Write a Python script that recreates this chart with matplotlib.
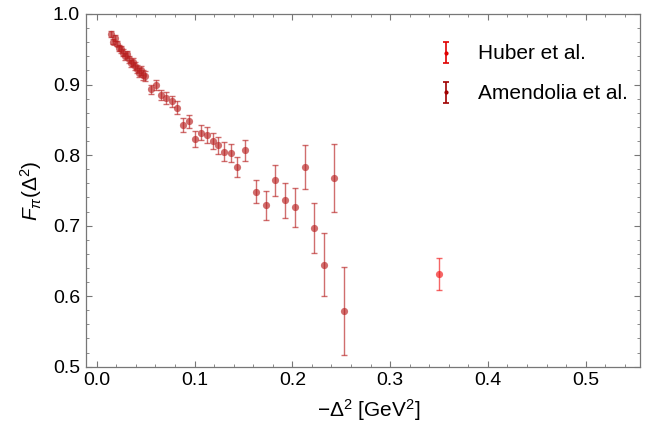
import matplotlib
matplotlib.use("Agg")
import matplotlib.pyplot as plt
from matplotlib.ticker import MultipleLocator
import numpy as np

plt.rcParams["font.family"] = ["Liberation Sans", "DejaVu Sans"]
plt.rcParams["mathtext.fontset"] = "custom"
plt.rcParams["mathtext.rm"] = "Liberation Sans"
plt.rcParams["mathtext.it"] = "Liberation Sans:italic"
plt.rcParams["mathtext.bf"] = "Liberation Sans:bold"

# Amendolia et al. (pion form factor, spacelike)
amend_q2 = [0.015, 0.017, 0.019, 0.021, 0.023, 0.025, 0.027, 0.029, 0.031,
            0.033, 0.035, 0.037, 0.039, 0.041, 0.043, 0.045, 0.047, 0.049,
            0.0555, 0.0606, 0.0657, 0.0709, 0.0767, 0.0824,
            0.0886, 0.0947, 0.1005, 0.1067, 0.1125, 0.1186, 0.1244, 0.1305,
            0.137, 0.1431,
            0.152, 0.1626, 0.1728, 0.182, 0.1925, 0.203, 0.2127, 0.2222,
            0.2327, 0.243, 0.2529]
amend_f = [0.972, 0.961, 0.966, 0.958, 0.952, 0.950, 0.945, 0.940, 0.943,
           0.936, 0.930, 0.932, 0.926, 0.922, 0.917, 0.920, 0.914, 0.912,
           0.893, 0.899, 0.885, 0.881, 0.876, 0.867,
           0.843, 0.848, 0.823, 0.832, 0.8285, 0.820, 0.8138, 0.805,
           0.8025, 0.7827,
           0.807, 0.748, 0.729, 0.764, 0.736, 0.726, 0.783, 0.696,
           0.6446, 0.768, 0.579]
amend_err = [0.004, 0.004, 0.004, 0.004, 0.004, 0.005, 0.005, 0.005, 0.005,
             0.005, 0.005, 0.006, 0.006, 0.006, 0.006, 0.006, 0.007, 0.007,
             0.006, 0.007, 0.007, 0.008, 0.008, 0.009,
             0.0102, 0.0095, 0.011, 0.011, 0.011, 0.012, 0.012, 0.013,
             0.013, 0.014,
             0.0147, 0.016, 0.0205, 0.0225, 0.025, 0.0276, 0.0307, 0.0354,
             0.045, 0.048, 0.063]

# Huber et al.
huber_q2 = [0.3497]
huber_f = [0.632]
huber_err = [0.0227]

xticks = [0.0, 0.1, 0.2, 0.3, 0.4, 0.5]
yticks = [0.5, 0.6, 0.7, 0.8, 0.9, 1.0]

W, H = 662, 430
fig = plt.figure(figsize=(W / 100, H / 100), dpi=100)
left, right, top, bottom = 85.5, 640, 14, 366.7
ax = fig.add_axes([left / W, 1 - bottom / H, (right - left) / W, (bottom - top) / H])

huber_col = "#f01515"
amend_col = "#b82020"
alpha = 0.65
bar_style = dict(fmt="none", elinewidth=1.0, capsize=2.0, capthick=1.0, alpha=alpha)
pt_style = dict(linestyle="none", marker="o", markersize=5.2,
                markeredgewidth=0, alpha=alpha)

for xs, ys, es, col in [(huber_q2, huber_f, huber_err, huber_col),
                        (amend_q2, amend_f, amend_err, amend_col)]:
    ax.errorbar(xs, ys, yerr=es, ecolor=col, **bar_style)
    ax.plot(xs, ys, color=col, **pt_style)

# compact legend symbols: small point with capped bar (not placed in view)
leg_style = dict(fmt="o", markersize=2.0, elinewidth=1.2, capsize=2.4,
                 capthick=1.2)
h = ax.errorbar([np.nan], [np.nan], yerr=[0.01], color="#e00000",
                label="Huber et al.", **leg_style)
a = ax.errorbar([np.nan], [np.nan], yerr=[0.01], color="#a00000",
                label="Amendolia et al.", **leg_style)

ax.set_xlim(-0.0115, 0.5555)
ax.set_ylim(0.5, 1.0)
ax.set_xticks(xticks)
ax.set_yticks(yticks)
ax.set_xticklabels([f"{v:.1f}" for v in xticks])
ax.set_yticklabels([f"{v:.1f}" for v in yticks])
ax.xaxis.set_minor_locator(MultipleLocator(0.02))
ax.yaxis.set_minor_locator(MultipleLocator(0.02))
ax.tick_params(which="both", direction="in", top=True, right=True,
               colors="#777777", labelcolor="black", labelsize=14)
ax.tick_params(which="major", length=4, width=0.8, pad=4)
ax.tick_params(which="minor", length=2, width=0.6)
for s in ax.spines.values():
    s.set_color("#777777")
    s.set_linewidth(0.9)

ax.set_xlabel(r"$-\Delta^2$ [GeV$^2$]", fontsize=15, labelpad=5)
ax.xaxis.set_label_coords(0.511, -0.085)
ax.set_ylabel(r"$F_{\pi}(\Delta^2)$", fontsize=15, labelpad=6)

leg = ax.legend(handles=[h, a], loc="upper right", frameon=False,
                fontsize=15, handlelength=1.0, handleheight=0.45,
                handletextpad=1.0, labelspacing=1.0, borderaxespad=0.2,
                bbox_to_anchor=(1.0, 0.95))

fig.savefig("out.png", dpi=100)
